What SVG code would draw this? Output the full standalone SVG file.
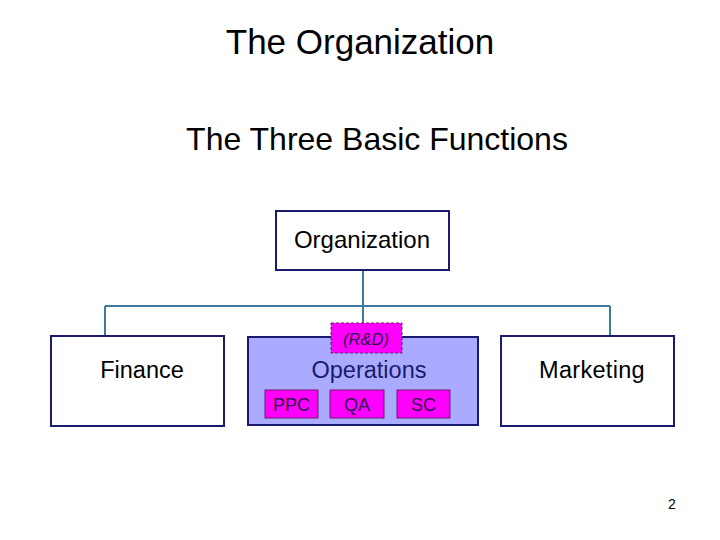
<svg xmlns="http://www.w3.org/2000/svg" width="720" height="540" viewBox="0 0 720 540">
<style>
text{font-family:"Liberation Sans",Arial,sans-serif;text-anchor:middle}
.box{fill:#fff;stroke:#1a1a6e;stroke-width:2}
.ops{fill:#aaaaff;stroke:#1a1a6e;stroke-width:2}
.sub{fill:#ff00ff;stroke:#6a1a6a;stroke-width:1}
.conn{fill:none;stroke:#3f7a9e;stroke-width:2}
</style>
<rect width="720" height="540" fill="#fff"/>
<text x="360" y="54" font-size="35">The Organization</text>
<text x="377" y="150" font-size="32">The Three Basic Functions</text>
<g id="connectors">
<path class="conn" d="M363 270V323M105 306H610M105 306V337M610 306V337"/>
</g>
<g id="organization">
<rect class="box" x="276" y="211" width="173" height="59"/>
<text x="362" y="248" font-size="24">Organization</text>
</g>
<g id="finance">
<rect class="box" x="51" y="336" width="173" height="90"/>
<text x="142" y="378" font-size="23.5">Finance</text>
</g>
<g id="operations">
<rect class="ops" x="248" y="337" width="230" height="88"/>
<text x="369" y="378" font-size="23.5" fill="#1a1a6e">Operations</text>
</g>
<g id="rnd">
<rect class="sub" x="331" y="323" width="71" height="30" stroke-dasharray="3 2"/>
<text x="366" y="345" font-size="16.5" font-style="italic" fill="#2a1a4a">(R&amp;D)</text>
</g>
<g id="ppc">
<rect class="sub" x="265" y="390" width="53" height="28"/>
<text x="291.5" y="411" font-size="18" fill="#2a1a4a">PPC</text>
</g>
<g id="qa">
<rect class="sub" x="330" y="390" width="54" height="28"/>
<text x="357" y="411" font-size="18" fill="#2a1a4a">QA</text>
</g>
<g id="sc">
<rect class="sub" x="397" y="390" width="53" height="28"/>
<text x="423.5" y="411" font-size="18" fill="#2a1a4a">SC</text>
</g>
<g id="marketing">
<rect class="box" x="501" y="336" width="173" height="90"/>
<text x="592" y="378" font-size="23.5" letter-spacing="0.3">Marketing</text>
</g>
<text x="672" y="509" font-size="14">2</text>
</svg>
